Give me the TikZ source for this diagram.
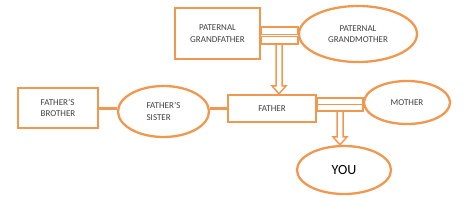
\documentclass[tikz,border=0pt]{standalone}
\usepackage{fontspec}
\setmainfont{Carlito}
\usepackage{tikz}
\usetikzlibrary{calc,shapes.geometric}
\definecolor{famorange}{RGB}{240,152,80}
\definecolor{famtext}{RGB}{64,64,64}

\begin{document}
\begin{tikzpicture}[x=1pt,y=1pt,
  box/.style={draw=famorange,line width=2.3pt,rectangle,align=center,text=famtext,font=\fontsize{9}{11.5}\selectfont},
  oval/.style={draw=famorange,line width=2.3pt,ellipse,align=center,text=famtext,font=\fontsize{9}{11.5}\selectfont,inner sep=0pt},
  link/.style={draw=famorange,line width=3pt},
  bond/.style={draw=famorange,line width=1.6pt},
  hollow/.style={draw=famorange,line width=1.5pt,line join=miter}]
\useasboundingbox (0,0) rectangle (476,215);

\node[box,minimum width=85pt,minimum height=51pt] (pgf) at (217.5,181.5) {PATERNAL\\GRANDFATHER};
\node[oval,minimum width=118pt,minimum height=56pt] (pgm) at (358,181) {PATERNAL\\GRANDMOTHER};

\node[box,minimum width=80pt,minimum height=40pt,align=left] (brother) at (58,107) {FATHER’S\\BROTHER};
\node[oval,minimum width=91pt,minimum height=51pt,align=left] (sister) at (163.5,103.5) {FATHER’S\\SISTER};
\node[box,minimum width=88pt,minimum height=27pt] (father) at (272,106.5) {FATHER};
\node[oval,minimum width=86pt,minimum height=43pt] (mother) at (407,112.5) {MOTHER};
\node[oval,minimum width=94pt,minimum height=48pt,font=\fontsize{14}{16}\selectfont,text=black] (you) at (344,45) {YOU};

% marriage bars
\draw[bond] ([yshift=6.5pt]pgf.east) rectangle ([yshift=-1pt]pgf.east -| pgm.west);
\draw[bond] ([yshift=-3pt]pgf.east) rectangle ([yshift=-10.5pt]pgf.east -| pgm.west);
\draw[bond] ([yshift=10.5pt]father.east) rectangle ([yshift=4pt]father.east -| mother.west);
\draw[bond] ([yshift=4pt]father.east) rectangle ([yshift=-2.5pt]father.east -| mother.west);

% siblings
\draw[link] (brother.east) -- (brother.east -| sister.west);
\draw[link] (father.west -| sister.east) -- (father.west);

% children
\coordinate (gp) at (279,171);
\coordinate (pp) at (340,104);
\draw[hollow] ($(gp)+(-3,0)$) -- ($(gp |- father.north)+(-3,8)$) -- ++(-4,0)
  -- (gp |- father.north) -- ++(7,8) -- ++(-4,0) -- ($(gp)+(3,0)$);
\draw[hollow] ($(pp)+(-3,0)$) -- ($(pp |- you.north)+(-3,8)$) -- ++(-4,0)
  -- (pp |- you.north) -- ++(7,8) -- ++(-4,0) -- ($(pp)+(3,0)$);
\end{tikzpicture}
\end{document}
